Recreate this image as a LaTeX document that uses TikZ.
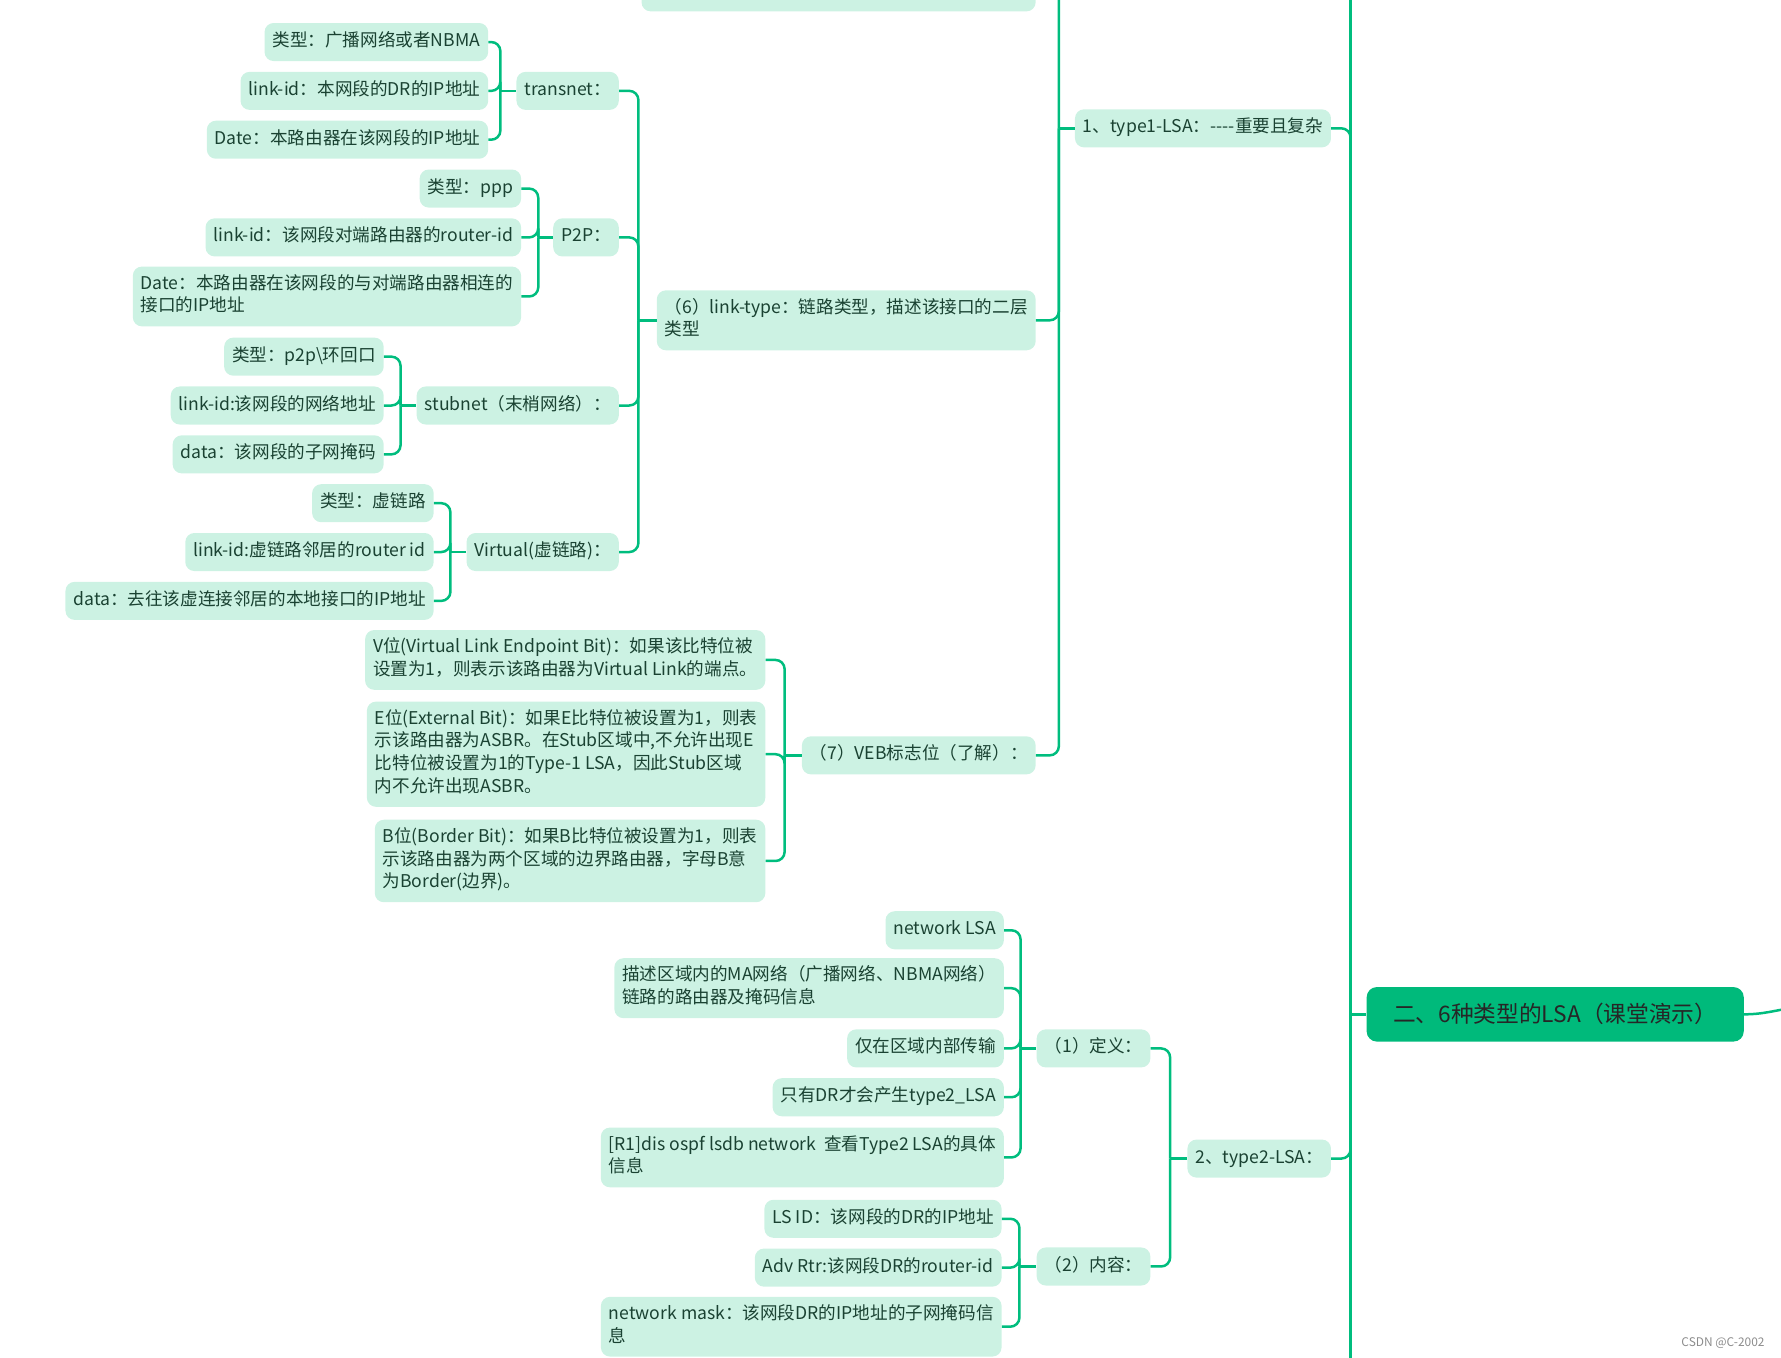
\documentclass[tikz,border=0pt]{standalone}
\usepackage{fontspec}
\setmainfont{Noto Sans CJK SC}
\usetikzlibrary{positioning}
\definecolor{lsagreen}{RGB}{0,189,126}
\definecolor{lsamint}{RGB}{204,242,227}
\definecolor{lsatext}{RGB}{26,66,50}
\definecolor{lsaroot}{RGB}{0,186,123}

\begin{document}
\begin{tikzpicture}[x=1pt,y=-1pt,
    every node/.style={font=\fontsize{15.5}{20}\selectfont},
    topic/.style={fill=lsamint,text=lsatext,rounded corners=8pt,anchor=east,align=left,
      inner xsep=7pt,inner ysep=6.75pt,execute at begin node=\strut,execute at end node=\strut},
    link/.style={draw=lsagreen,line width=2.2pt,rounded corners=8pt}]
  \useasboundingbox (0,0) rectangle (1568,1195);

  \node[fill=lsaroot,text=black!85,rounded corners=9pt,anchor=west,minimum width=332pt,minimum height=48pt,
    font=\fontsize{20}{24}\selectfont] (lsa) at (1203,893) {二、6种类型的LSA（课堂演示）};
  \node[topic] (t1) at (1172,113) {1、type1-LSA：-{}-{}-{}-重要且复杂};
  \node[topic] (t2) at (1172,1020) {2、type2-LSA：};

  \node[topic,minimum width=347pt,minimum height=54pt] (t1top) at (912,-17) {};
  \node[topic] (lt) at (912,282) {（6）link-type：链路类型，描述该接口的二层\\类型};
  \node[topic] (veb) at (912,665) {（7）VEB标志位（了解）：};

  \node[topic] (transnet) at (545,80) {transnet：};
  \node[topic] (p2p) at (545,209) {P2P：};
  \node[topic] (stubnet) at (545,357) {stubnet（末梢网络）：};
  \node[topic] (virtual) at (545,486) {Virtual(虚链路)：};

  \node[topic] (tn-type) at (430,37) {类型：广播网络或者NBMA};
  \node[topic] (tn-id) at (430,80) {link-id：本网段的DR的IP地址};
  \node[topic] (tn-data) at (430,123) {Date：本路由器在该网段的IP地址};

  \node[topic] (pp-type) at (459,166) {类型：ppp};
  \node[topic] (pp-id) at (459,209) {link-id：该网段对端路由器的router-id};
  \node[topic] (pp-data) at (459,261) {Date：本路由器在该网段的与对端路由器相连的\\接口的IP地址};

  \node[topic] (sn-type) at (338,314) {类型：p2p\textbackslash 环回口};
  \node[topic] (sn-id) at (338,357) {link-id:该网段的网络地址};
  \node[topic] (sn-data) at (338,400) {data：该网段的子网掩码};

  \node[topic] (vl-type) at (382,443) {类型：虚链路};
  \node[topic] (vl-id) at (382,486) {link-id:虚链路邻居的router id};
  \node[topic] (vl-data) at (382,529) {data：去往该虚连接邻居的本地接口的IP地址};

  \node[topic] (veb-v) at (674,581) {V位(Virtual Link Endpoint Bit)：如果该比特位被\\设置为1，则表示该路由器为Virtual Link的端点。};
  \node[topic] (veb-e) at (674,664) {E位(External Bit)：如果E比特位被设置为1，则表\\示该路由器为ASBR。在Stub区域中,不允许出现E\\比特位被设置为1的Type-1 LSA，因此Stub区域\\内不允许出现ASBR。};
  \node[topic] (veb-b) at (674,758) {B位(Border Bit)：如果B比特位被设置为1，则表\\示该路由器为两个区域的边界路由器，字母B意\\为Border(边界)。};

  \node[topic] (def) at (1013,923) {（1）定义：};
  \node[topic] (cont) at (1013,1115) {（2）内容：};

  \node[topic] (def-a) at (884,819) {network LSA};
  \node[topic] (def-b) at (884,870) {描述区域内的MA网络（广播网络、NBMA网络）\\链路的路由器及掩码信息};
  \node[topic] (def-c) at (884,923) {仅在区域内部传输};
  \node[topic] (def-d) at (884,966) {只有DR才会产生type2\_LSA};
  \node[topic] (def-e) at (884,1019) {[R1]dis ospf lsdb network\ \ 查看Type2 LSA的具体\\信息};

  \node[topic] (cont-a) at (882,1073) {LS ID：该网段的DR的IP地址};
  \node[topic] (cont-b) at (882,1116) {Adv Rtr:该网段DR的router-id};
  \node[topic] (cont-c) at (882,1168) {network mask：该网段DR的IP地址的子网掩码信\\息};

  \node[anchor=east,text=black!45,font=\fontsize{10.5}{12}\selectfont] (mark) at (1557,1182) {CSDN @C-2002};

  \coordinate (lsa-j) at ([xshift=-14pt]lsa.west);
  \coordinate (lsa-up) at (1189,-10);
  \coordinate (lsa-down) at (1189,1205);
  \coordinate (lsa-out) at (1580,887);
  \coordinate (t1-j) at ([xshift=-14pt]t1.west);
  \coordinate (t2-j) at ([xshift=-15pt]t2.west);
  \coordinate (lt-j) at ([xshift=-16pt]lt.west);
  \coordinate (veb-j) at ([xshift=-15pt]veb.west);
  \coordinate (tn-j) at ([xshift=-14pt]transnet.west);
  \coordinate (pp-j) at ([xshift=-13pt]p2p.west);
  \coordinate (sn-j) at ([xshift=-14pt]stubnet.west);
  \coordinate (vl-j) at ([xshift=-14pt]virtual.west);
  \coordinate (def-j) at ([xshift=-14pt]def.west);
  \coordinate (cont-j) at ([xshift=-15pt]cont.west);

  \draw[link] (lsa-up) -- (lsa-down);
  \draw[link] (lsa-j) -- (lsa.west);
  \draw[link] (lsa.east) to[out=0,in=188] (lsa-out);
  \draw[link] (t1.east) -| (lsa-j);
  \draw[link] (t2.east) -| (lsa-j);

  \draw[link] (t1-j) -- (t1.west);
  \draw[link] (t1top.east) -| (t1-j);
  \draw[link] (lt.east) -| (t1-j);
  \draw[link] (veb.east) -| (t1-j);

  \draw[link] (lt-j) -- (lt.west);
  \foreach \kid in {transnet,p2p,stubnet,virtual}
    \draw[link] (\kid.east) -| (lt-j);

  \draw[link] (tn-j) -- (transnet.west);
  \foreach \kid in {tn-type,tn-id,tn-data}
    \draw[link] (\kid.east) -| (tn-j);
  \draw[link] (pp-j) -- (p2p.west);
  \foreach \kid in {pp-type,pp-id,pp-data}
    \draw[link] (\kid.east) -| (pp-j);
  \draw[link] (sn-j) -- (stubnet.west);
  \foreach \kid in {sn-type,sn-id,sn-data}
    \draw[link] (\kid.east) -| (sn-j);
  \draw[link] (vl-j) -- (virtual.west);
  \foreach \kid in {vl-type,vl-id,vl-data}
    \draw[link] (\kid.east) -| (vl-j);

  \draw[link] (veb-j) -- (veb.west);
  \foreach \kid in {veb-v,veb-e,veb-b}
    \draw[link] (\kid.east) -| (veb-j);

  \draw[link] (t2-j) -- (t2.west);
  \draw[link] (def.east) -| (t2-j);
  \draw[link] (cont.east) -| (t2-j);

  \draw[link] (def-j) -- (def.west);
  \foreach \kid in {def-a,def-b,def-c,def-d,def-e}
    \draw[link] (\kid.east) -| (def-j);
  \draw[link] (cont-j) -- (cont.west);
  \foreach \kid in {cont-a,cont-b,cont-c}
    \draw[link] (\kid.east) -| (cont-j);
\end{tikzpicture}
\end{document}
